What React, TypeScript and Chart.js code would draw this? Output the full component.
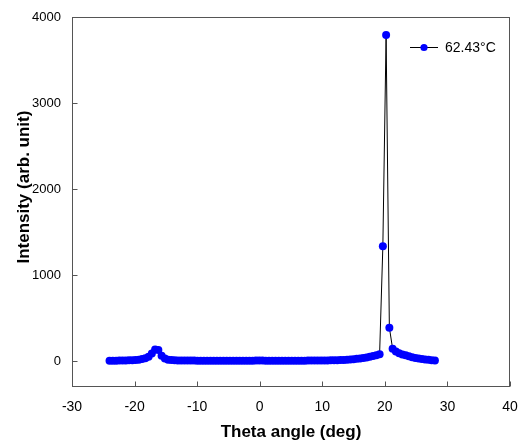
import { useEffect, useRef } from "react";
import { Chart, registerables } from "chart.js";

Chart.register(...registerables);

const seriesLabel = "62.43°C";
const xTitle = "Theta angle (deg)";
const yTitle = "Intensity (arb. unit)";
const xTicks = [-30, -20, -10, 0, 10, 20, 30, 40];
const yTicks = [0, 1000, 2000, 3000, 4000];

const theta = [
  -24, -23.48, -22.96, -22.44, -21.92, -21.4, -20.88, -20.36, -19.84, -19.32,
  -18.8, -18.28, -17.76, -17.24, -16.72, -16.2, -15.68, -15.16, -14.64, -14.12,
  -13.6, -13.08, -12.56, -12.04, -11.52, -11.0, -10.48, -9.96, -9.44, -8.92,
  -8.4, -7.88, -7.36, -6.84, -6.32, -5.8, -5.28, -4.76, -4.24, -3.72,
  -3.2, -2.68, -2.16, -1.64, -1.12, -0.6, -0.08, 0.44, 0.96, 1.48,
  2.0, 2.52, 3.04, 3.56, 4.08, 4.6, 5.12, 5.64, 6.16, 6.68,
  7.2, 7.72, 8.24, 8.76, 9.28, 9.8, 10.32, 10.84, 11.36, 11.88,
  12.4, 12.92, 13.44, 13.96, 14.48, 15.0, 15.52, 16.04, 16.56, 17.08,
  17.6, 18.12, 18.64, 19.16, 19.68, 20.2, 20.72, 21.24, 21.76, 22.28,
  22.8, 23.32, 23.84, 24.36, 24.88, 25.4, 25.92, 26.44, 26.96, 27.48,
  28.0,
];

const intensity = [
  5, 6, 6, 7, 8, 9, 10, 12, 14, 18,
  24, 34, 52, 88, 135, 130, 62, 30, 18, 13,
  10, 9, 8, 8, 7, 7, 7, 6, 6, 6,
  6, 6, 5, 5, 5, 5, 5, 5, 5, 5,
  5, 5, 5, 6, 6, 7, 8, 7, 6, 6,
  5, 5, 5, 5, 5, 5, 5, 6, 6, 6,
  6, 7, 7, 7, 8, 8, 9, 9, 10, 11,
  12, 13, 15, 17, 20, 23, 27, 31, 37, 44,
  52, 60, 70, 82, 1335, 3790, 390, 145, 112, 92,
  78, 68, 56, 46, 38, 32, 26, 21, 16, 12,
  9,
];

const FONT = "'Liberation Sans', Arial, Helvetica, sans-serif";

export default function App() {
  const ref = useRef<HTMLCanvasElement>(null);

  useEffect(() => {
    if (!ref.current) return;

    const decorations = {
      id: "decorations",
      afterDraw(chart: any) {
        const { ctx, chartArea: a, scales } = chart;
        ctx.save();
        // frame
        ctx.strokeStyle = "#555";
        ctx.lineWidth = 1;
        const L = Math.round(a.left) + 0.5;
        const R = Math.round(a.right) - 0.5;
        const T = Math.round(a.top) + 0.5;
        const B = Math.round(a.bottom) - 0.5;
        ctx.strokeRect(L, T, R - L, B - T);
        // inward tick marks
        ctx.beginPath();
        for (const v of xTicks) {
          const px = Math.round(scales.x.getPixelForValue(v)) + 0.5;
          ctx.moveTo(px, B);
          ctx.lineTo(px, B - 5);
        }
        for (const v of yTicks) {
          const py = Math.round(scales.y.getPixelForValue(v)) + 0.5;
          ctx.moveTo(L, py);
          ctx.lineTo(L + 5, py);
        }
        ctx.stroke();
        // y title
        const mid = (yTicks[0] + yTicks[yTicks.length - 1]) / 2;
        ctx.translate(24, scales.y.getPixelForValue(mid) - 2);
        ctx.rotate(-Math.PI / 2);
        ctx.fillStyle = "#000";
        ctx.font = `bold 17px ${FONT}`;
        ctx.textAlign = "center";
        ctx.textBaseline = "middle";
        ctx.fillText(yTitle, 0, 0);
        ctx.restore();

        // legend
        ctx.save();
        const ly = a.top + 30;
        const lx = a.right - 100;
        ctx.strokeStyle = "#000";
        ctx.lineWidth = 1;
        ctx.beginPath();
        ctx.moveTo(lx, ly + 0.5);
        ctx.lineTo(lx + 28, ly + 0.5);
        ctx.stroke();
        ctx.fillStyle = "#0000ff";
        ctx.beginPath();
        ctx.arc(lx + 14, ly + 0.5, 3.6, 0, Math.PI * 2);
        ctx.fill();
        ctx.fillStyle = "#000";
        ctx.font = `14px ${FONT}`;
        ctx.textAlign = "left";
        ctx.textBaseline = "middle";
        ctx.fillText(seriesLabel, lx + 35, ly + 1);
        ctx.restore();
      },
    };

    const chart = new Chart(ref.current, {
      type: "line",
      data: {
        datasets: [
          {
            label: seriesLabel,
            data: theta.map((t, i) => ({ x: t, y: intensity[i] })),
            borderColor: "#000",
            borderWidth: 1,
            pointBackgroundColor: "#0000ff",
            pointBorderColor: "#0000ff",
            pointBorderWidth: 0,
            pointRadius: 4,
            tension: 0,
            fill: false,
          },
        ],
      },
      options: {
        responsive: false,
        animation: false,
        devicePixelRatio: 1,
        layout: { padding: { left: 0, right: 12, top: 17, bottom: 0 } },
        plugins: {
          legend: { display: false },
          tooltip: { enabled: false },
        },
        scales: {
          x: {
            type: "linear",
            min: -30,
            max: 40,
            afterBuildTicks: (s: any) => {
              s.ticks = xTicks.map((value) => ({ value }));
            },
            afterFit: (s: any) => {
              s.height = 58;
            },
            grid: { display: false },
            border: { display: false },
            ticks: {
              padding: 4,
              color: "#000",
              font: { family: FONT, size: 14 },
              maxRotation: 0,
              callback: (v: any) => String(v),
            },
            title: {
              display: true,
              text: xTitle,
              color: "#000",
              font: { family: FONT, size: 17, weight: "bold" },
              padding: { top: 4, bottom: 2 },
            },
          },
          y: {
            type: "linear",
            min: -300,
            max: 4000,
            afterBuildTicks: (s: any) => {
              s.ticks = yTicks.map((value) => ({ value }));
            },
            afterFit: (s: any) => {
              s.width = 72;
            },
            grid: { display: false },
            border: { display: false },
            ticks: {
              padding: 3,
              color: "#000",
              font: { family: FONT, size: 13 },
              callback: (v: any) => String(v),
            },
          },
        },
      },
      plugins: [decorations],
    });

    return () => chart.destroy();
  }, []);

  return (
    <div style={{ position: "fixed", left: 0, top: 0, width: 522, height: 445, background: "#fff" }}>
      <canvas ref={ref} width={522} height={445} />
    </div>
  );
}
